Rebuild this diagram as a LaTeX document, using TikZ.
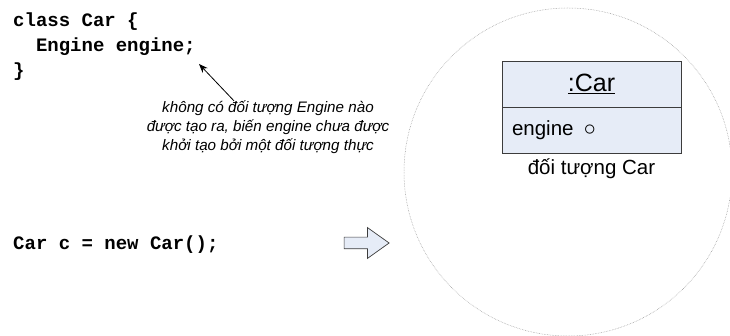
\documentclass[tikz,border=0pt]{standalone}
\usepackage{fontspec}
\setmainfont{Liberation Sans}
\setmonofont{Liberation Mono}
\usetikzlibrary{shapes.arrows, arrows.meta, positioning}
\definecolor{objfill}{RGB}{230,236,247}
\definecolor{objline}{RGB}{60,60,60}
\definecolor{heapline}{RGB}{150,150,150}
\tikzset{
  codetext/.style={inner sep=0pt, align=left,
    font=\ttfamily\bfseries\fontsize{19}{25}\selectfont},
  notetext/.style={inner sep=0pt, align=center,
    font=\itshape\fontsize{15.2}{19}\selectfont},
  objpart/.style={rectangle, draw=objline, fill=objfill, line width=0.7pt,
    minimum width=179pt, minimum height=46pt},
  ptr/.style={-{Stealth[length=9pt,width=7pt]}, line width=0.8pt, color=black}
}

\begin{document}
\begin{tikzpicture}[x=1pt, y=-1pt]
  \useasboundingbox (0,0) rectangle (730,336);

  % the heap
  \node[circle, draw=heapline, dash pattern=on 0.6pt off 1pt, line width=0.5pt,
    minimum size=328pt, inner sep=0pt] (heap) at (568,172) {};

  % source code
  \node[codetext, anchor=north west] (classdef) at (13,13)
    {class Car \{\\\ \ Engine engine;\\\}};
  \node[codetext, anchor=base west] (newcar) at (13,250) {Car c = new Car();};

  % remark on the field
  \node[notetext] (note) at (268,127.5)
    {không có đối tượng Engine nào\\được tạo ra, biến engine chưa được\\khởi tạo bởi một đối tượng thực};
  \coordinate (enginefield) at (199,64);
  \draw[ptr] ([xshift=-34pt]note.north) -- (enginefield);

  % block arrow
  \node[single arrow, draw=objline, fill=objfill, line width=0.7pt, inner sep=0pt,
    minimum height=45pt, single arrow head extend=9.5pt,
    single arrow tip angle=71] (makes) at (362.5,243) {\rule{0pt}{11pt}};

  % the Car object
  \node[objpart, font=\fontsize{25}{28}\selectfont] (carhead) at (591.5,84) {\underline{:Car}};
  \node[objpart, below=0pt of carhead, text width=159pt, inner xsep=10pt, align=left,
    font=\fontsize{20.5}{24}\selectfont] (carattr) {engine\hspace{0.5em}\scalebox{1.15}{$\circ$}};
  \node[below=4pt of carattr, inner sep=0pt, font=\fontsize{20.5}{24}\selectfont] (carlabel)
    {đối tượng Car};
\end{tikzpicture}
\end{document}
